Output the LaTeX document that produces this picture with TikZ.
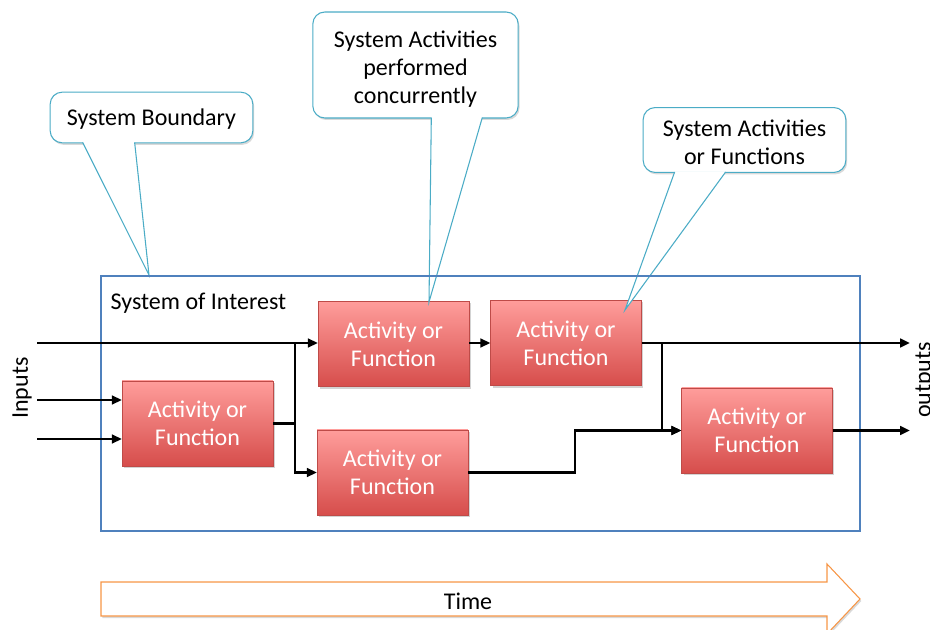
\documentclass[tikz,border=0pt]{standalone}
\usepackage{fontspec}
\setmainfont{Carlito}
\usepackage{tikz}
\usetikzlibrary{arrows.meta,shadows,calc,positioning}
\definecolor{boundaryblue}{RGB}{79,129,189}
\definecolor{callteal}{RGB}{75,172,198}
\definecolor{timeorange}{RGB}{247,150,70}
\definecolor{actlight}{RGB}{255,157,155}
\definecolor{actdark}{RGB}{214,77,75}
\definecolor{actborder}{RGB}{190,75,72}
\newcommand{\calltext}[2]{\raisebox{-#1}[\height][\depth]{\begin{tabular}{@{}c@{}}#2\end{tabular}}}

\begin{document}
\begin{tikzpicture}[x=0.75pt,y=-0.75pt,>={Triangle[length=7.5pt,width=6.5pt]},font=\fontsize{18}{21}\selectfont,
  activity/.style={rectangle,minimum width=113pt,minimum height=64pt,top color=actlight,bottom color=actdark,draw=actborder,line width=0.4pt,text=white,align=center,drop shadow={shadow xshift=1.5pt,shadow yshift=-1.5pt,opacity=0.35}},
  callout/.style={rectangle,rounded corners=9pt,draw=callteal,line width=0.8pt,fill=white,align=center,drop shadow={shadow xshift=1pt,shadow yshift=-1.5pt,opacity=0.3}},
  tail/.style={draw=callteal,line width=0.8pt},
  flow/.style={line width=2pt}]
\useasboundingbox (0,0) rectangle (930,630);

    % The activities
	\node [activity] at (197.5,423.5) (act1) {Activity or\\Function};
	\node [activity] at (393.5,344) (act2) {Activity or\\Function};
	\node [activity] at (566,343) (act3) {Activity or\\Function};
	\node [activity] at (392.5,472.5) (act4) {Activity or\\Function};
	\node [activity] at (757,430.5) (act5) {Activity or\\Function};

    % Callouts
	\node [callout,minimum width=152pt,minimum height=38pt] at (151.5,117.5) (cb) {\calltext{2pt}{System Boundary}};
	\coordinate (cbtip) at (149,275);
	\fill[white] ($(cb.south west)+(33,-1.5)$) -- (cbtip) -- ($(cb.south west)+(85,-1.5)$) -- cycle;
	\draw[tail] ($(cb.south west)+(33,-1)$) -- (cbtip) -- ($(cb.south west)+(85,-1)$);

	\node [callout,minimum width=154pt,minimum height=79.5pt] at (415.5,65) (cc) {\calltext{4pt}{System Activities\\performed\\concurrently}};
	\coordinate (cctip) at (429,302);
	\fill[white] ($(cc.south west)+(119,-1.5)$) -- (cctip) -- ($(cc.south west)+(170,-1.5)$) -- cycle;
	\draw[tail] ($(cc.south west)+(119,-1)$) -- (cctip) -- ($(cc.south west)+(170,-1)$);

	\node [callout,minimum width=152pt,minimum height=39pt] at (744.5,140) (cf) {\calltext{4pt}{System Activities\\or Functions}};
	\coordinate (cftip) at (625,310);
	\fill[white] ($(cf.south west)+(32,-1.5)$) -- (cftip) -- ($(cf.south west)+(83,-1.5)$) -- cycle;
	\draw[tail] ($(cf.south west)+(32,-1)$) -- (cftip) -- ($(cf.south west)+(83,-1)$);

    % System boundary
	\draw[boundaryblue,line width=0.8pt] (101,276) rectangle (860,531);
	\node [anchor=west] at (106,303) (soi) {System of Interest};
	\node [rotate=90] at (22,388) (inputs) {Inputs};
	\node [rotate=90] at (925,380) (outputs) {outputs};

    % Flow edges
	\coordinate (in1) at (37,343);
	\coordinate (in2) at (37,400);
	\coordinate (in3) at (37,439);
	\coordinate (j1) at (295,423.5);
	\coordinate (j2) at (662,343);
	\coordinate (j3) at (575,472.5);
	\coordinate (out1) at (910,343);
	\coordinate (out2) at (910,430.5);
	\draw[flow,->] (in1) -- (in1 -| act2.west);
	\draw[flow,->] (in2) -- (in2 -| act1.west);
	\draw[flow,->] (in3) -- (in3 -| act1.west);
	\draw[flow] (act1.east) -- (j1);
	\draw[flow,->] (j1 |- in1) |- (act4.west);
	\draw[flow,->] (act2.east |- in1) -- (in1 -| act3.west);
	\draw[flow,->] (act3.east) -- (out1);
	\draw[flow,->] (j2) |- (act5.west);
	\draw[flow,->] (act4.east) -- (j3) |- (act5.west);
	\draw[flow,->] (act5.east) -- (out2);

    % Time
	\draw[timeorange,line width=0.8pt,fill=white,drop shadow={shadow xshift=1pt,shadow yshift=-1.5pt,opacity=0.3}]
	  (101,582) -- (827,582) -- (827,564) -- (860,599) -- (827,634) -- (827,616) -- (101,616) -- cycle;
	\node at (468,601) (time) {Time};

\end{tikzpicture}
\end{document}
